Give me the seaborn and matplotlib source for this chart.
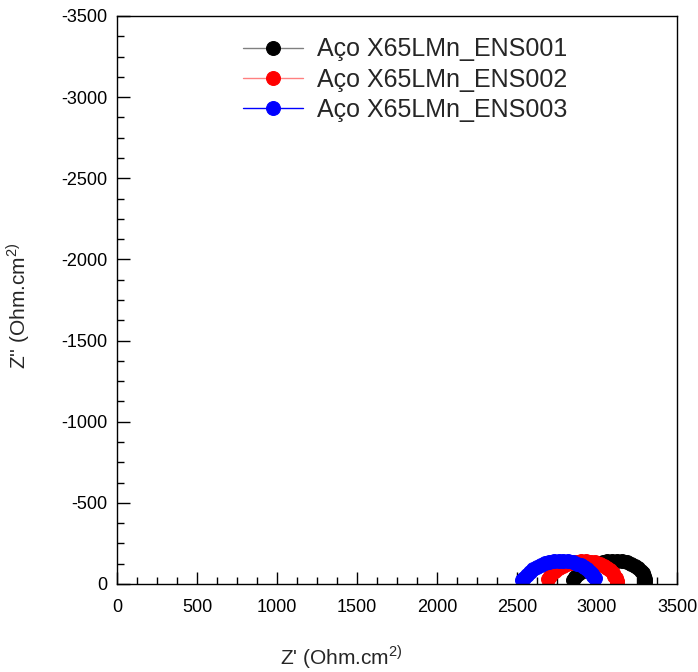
import numpy as np
import pandas as pd
import matplotlib
matplotlib.use("Agg")
import matplotlib.pyplot as plt
from matplotlib.ticker import MultipleLocator
import seaborn as sns

sns.set_theme(style="white")
plt.rcParams["font.family"] = ["Liberation Sans", "DejaVu Sans"]
plt.rcParams["axes.unicode_minus"] = False
plt.rcParams["mathtext.fontset"] = "custom"
plt.rcParams["mathtext.rm"] = "Liberation Sans"

# Nyquist data: Z' (real part) and Z'' (imaginary part, negative)
zr_001 = [2852, 2865, 2882, 2900, 2922, 2947, 2975, 3005, 3035, 3065, 3095,
          3125, 3155, 3185, 3212, 3235, 3255, 3272, 3285, 3294, 3300, 3303]
zi_001 = [-26, -43, -60, -76, -91, -105, -117, -127, -134, -139, -142,
          -142, -139, -133, -124, -112, -98, -82, -65, -48, -30, -14]

zr_002 = [2695, 2705, 2720, 2740, 2760, 2785, 2810, 2840, 2870, 2900, 2930,
          2960, 2990, 3020, 3045, 3065, 3082, 3097, 3108, 3117, 3123, 3126]
zi_002 = [-30, -48, -65, -82, -96, -110, -121, -130, -136, -139, -140,
          -138, -133, -124, -112, -99, -84, -68, -52, -36, -20, -10]

zr_003 = [2530, 2545, 2560, 2580, 2600, 2625, 2650, 2675, 2700, 2730, 2760,
          2790, 2820, 2850, 2875, 2900, 2920, 2940, 2955, 2968, 2978, 2985]
zi_003 = [-22, -40, -57, -75, -92, -107, -119, -129, -136, -141, -143,
          -143, -140, -134, -126, -115, -104, -90, -77, -63, -50, -38]

series_names = ["Aço X65LMn_ENS001", "Aço X65LMn_ENS002", "Aço X65LMn_ENS003"]
marker_colors = ["#000000", "#ff0000", "#0000ff"]
line_colors = ["#808080", "#ff8080", "#0000ff"]

df = pd.concat([
    pd.DataFrame({"Zr": zr, "Zi": zi, "serie": name})
    for zr, zi, name in zip([zr_001, zr_002, zr_003],
                            [zi_001, zi_002, zi_003], series_names)
], ignore_index=True)

fig = plt.figure(figsize=(6.98, 6.72), dpi=100)
ax = fig.add_axes([117 / 698, 88 / 672, 560 / 698, 568 / 672])

for name, mc, lc in zip(series_names, marker_colors, line_colors):
    sub = df[df["serie"] == name]
    sns.lineplot(data=sub, x="Zr", y="Zi", ax=ax, sort=False, color=lc,
                 linewidth=1, marker="o", markersize=10,
                 markerfacecolor=mc, markeredgecolor=mc, label=name)

ax.set_xlim(0, 3500)
ax.set_ylim(0, -3500)
ax.xaxis.set_major_locator(MultipleLocator(500))
ax.xaxis.set_minor_locator(MultipleLocator(125))
ax.yaxis.set_major_locator(MultipleLocator(500))
ax.yaxis.set_minor_locator(MultipleLocator(125))
ax.tick_params(which="both", direction="in", top=False, right=False,
               bottom=True, left=True, labelsize=13, colors="black", width=1)
ax.tick_params(which="major", length=9)
ax.tick_params(which="minor", length=5)
ax.tick_params(axis="x", which="major", pad=11)
ax.tick_params(axis="y", which="major", pad=7)
for sp in ax.spines.values():
    sp.set_color("black")
    sp.set_linewidth(1)

ax.set_xlabel("Z' (Ohm.cm$^{2)}$", fontsize=15)
ax.xaxis.set_label_coords(0.40, -0.104)
ax.set_ylabel("Z'' (Ohm.cm$^{2)}$", fontsize=15)
ax.yaxis.set_label_coords(-0.152, 0.49)

leg = ax.legend(loc="upper left", bbox_to_anchor=(0.207, 0.98), frameon=False,
                fontsize=18, handlelength=2.4, handletextpad=0.55,
                labelspacing=0.25, borderaxespad=0.0)

fig.savefig("out.png", dpi=100)
